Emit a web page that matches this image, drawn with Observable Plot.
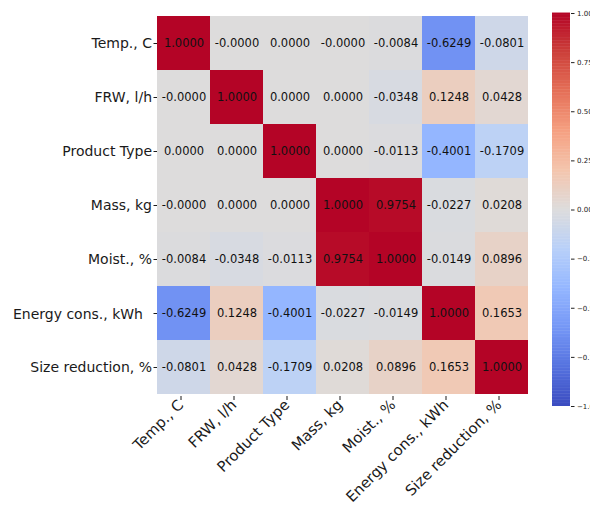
<!DOCTYPE html>
<html><head><meta charset="utf-8">
<script src="https://cdn.jsdelivr.net/npm/d3@7"></script>
<script src="https://cdn.jsdelivr.net/npm/@observablehq/plot@0.6"></script>
<style>
html,body{margin:0;padding:0;background:#fff;overflow:hidden}
#wrap{position:relative;width:590px;height:508px;overflow:hidden;font-family:"DejaVu Sans",sans-serif}
#wrap svg{position:absolute;top:0;left:0;background:transparent}
</style>
</head><body><div id="wrap"></div>
<script>
const variables = ["Temp., C","FRW, l/h","Product Type","Mass, kg","Moist., %","Energy cons., kWh","Size reduction, %"];
const corr = [
  [1, -0, 0, -0, -0.0084, -0.6249, -0.0801],
  [-0, 1, 0, 0, -0.0348, 0.1248, 0.0428],
  [0, 0, 1, 0, -0.0113, -0.4001, -0.1709],
  [-0, 0, 0, 1, 0.9754, -0.0227, 0.0208],
  [-0.0084, -0.0348, -0.0113, 0.9754, 1, -0.0149, 0.0896],
  [-0.6249, 0.1248, -0.4001, -0.0227, -0.0149, 1, 0.1653],
  [-0.0801, 0.0428, -0.1709, 0.0208, 0.0896, 0.1653, 1]
];
const colorbarTicks = [-1, -0.75, -0.5, -0.25, 0, 0.25, 0.5, 0.75, 1];
// approximate matplotlib "coolwarm" anchors
const coolwarmStops = ["#3b4cc0","#5572df","#7597f6","#94b6ff","#b8d0f9","#dddcdc","#f4c5ad","#f5a081","#e57058","#cc403a","#b40426"];

const coolwarm = d3.piecewise(d3.interpolateRgb, coolwarmStops);
const colorScale = {type: "linear", domain: [-1, 1], interpolate: coolwarm};

const cells = [];
variables.forEach((r, i) => variables.forEach((c, j) => cells.push({row: r, col: c, value: corr[i][j]})));
const fmt = v => ((v < 0 || Object.is(v, -0)) ? "-" : "") + Math.abs(v).toFixed(4);

const main = Plot.plot({
  width: 590, height: 508,
  marginLeft: 157, marginRight: 62, marginTop: 13, marginBottom: 112,
  style: {fontFamily: "DejaVu Sans, sans-serif", fontSize: "14px", color: "#1a1a1a", background: "transparent"},
  x: {domain: variables, padding: 0, label: null},
  y: {domain: variables, padding: 0, label: null},
  color: colorScale,
  marks: [
    Plot.cell(cells, {x: "col", y: "row", fill: "value"}),
    Plot.text(cells, {x: "col", y: "row", text: d => fmt(d.value), fill: "#111", fontSize: 11.5}),
    Plot.axisX({tickRotate: -45, tickSize: 4, tickPadding: 2, dx: -3, fontSize: 14.8, label: null}),
    Plot.axisY({tickSize: 3.5, tickPadding: 2, fontSize: 14, label: null})
  ]
});
document.getElementById("wrap").appendChild(main);

// nudge the "Energy cons., kWh" label as in the reference
main.querySelectorAll("text").forEach(el => {
  if (el.textContent === "Energy cons., kWh" && !(el.getAttribute("transform") || "").includes("rotate")) {
    const t = el.getAttribute("transform") || "";
    el.setAttribute("transform", `translate(-9,1) ${t}`);
  }
});

const steps = d3.range(0, 256);
const bar = Plot.plot({
  width: 80, height: 420,
  marginLeft: 0, marginRight: 62, marginTop: 13, marginBottom: 14,
  style: {fontFamily: "DejaVu Sans, sans-serif", fontSize: "7px", color: "#222", background: "transparent"},
  y: {domain: [-1, 1], label: null},
  color: colorScale,
  marks: [
    Plot.rect(steps, {y1: i => -1 + i * 2 / 256, y2: i => -1 + (i + 1.3) * 2 / 256, fill: i => -1 + (i + 0.5) * 2 / 256}),
    Plot.axisY({anchor: "right", ticks: colorbarTicks, tickFormat: d3.format(".2f"), tickSize: 3.5, tickPadding: 3, fontSize: 7, label: null})
  ]
});
bar.style.left = "552px";
document.getElementById("wrap").appendChild(bar);
</script>
</body></html>
